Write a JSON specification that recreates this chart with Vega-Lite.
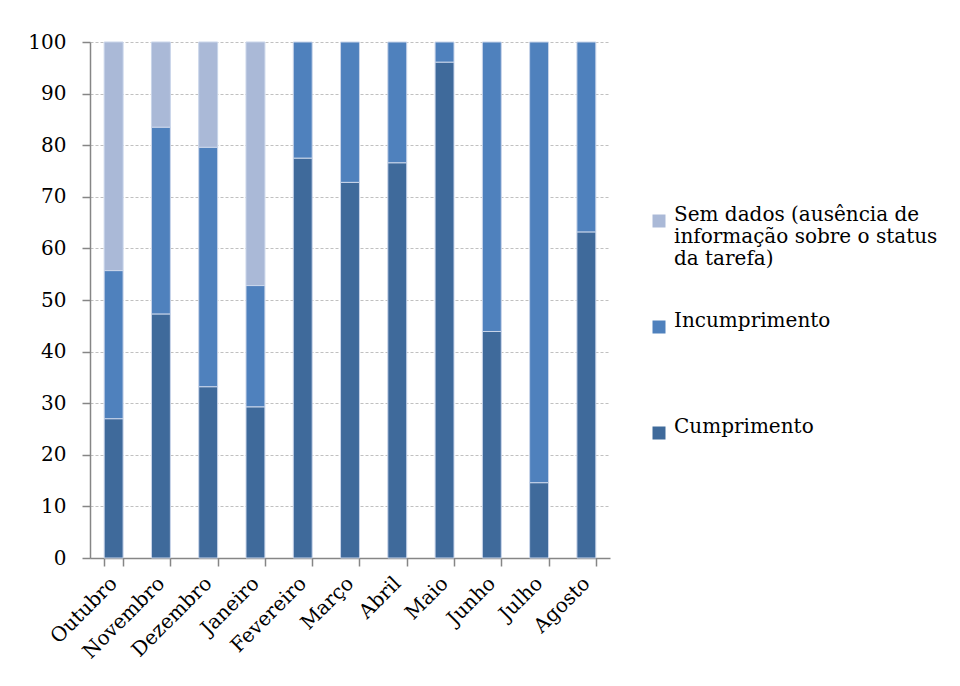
{
  "$schema": "https://vega.github.io/schema/vega-lite/v6.json",
  "width": 520,
  "height": 516,
  "autosize": {"type": "none"},
  "padding": {"left": 90, "top": 42, "right": 350, "bottom": 128},
  "background": "white",
  "config": {
    "view": {"stroke": null},
    "font": "DejaVu Serif"
  },
  "data": {
    "values": [
      {"mes": "Outubro", "cat": "Cumprimento", "ord": 1, "v": 27.0},
      {"mes": "Outubro", "cat": "Incumprimento", "ord": 2, "v": 28.7},
      {"mes": "Outubro", "cat": "Sem dados", "ord": 3, "v": 44.3},
      {"mes": "Novembro", "cat": "Cumprimento", "ord": 1, "v": 47.3},
      {"mes": "Novembro", "cat": "Incumprimento", "ord": 2, "v": 36.2},
      {"mes": "Novembro", "cat": "Sem dados", "ord": 3, "v": 16.5},
      {"mes": "Dezembro", "cat": "Cumprimento", "ord": 1, "v": 33.2},
      {"mes": "Dezembro", "cat": "Incumprimento", "ord": 2, "v": 46.4},
      {"mes": "Dezembro", "cat": "Sem dados", "ord": 3, "v": 20.4},
      {"mes": "Janeiro", "cat": "Cumprimento", "ord": 1, "v": 29.3},
      {"mes": "Janeiro", "cat": "Incumprimento", "ord": 2, "v": 23.5},
      {"mes": "Janeiro", "cat": "Sem dados", "ord": 3, "v": 47.2},
      {"mes": "Fevereiro", "cat": "Cumprimento", "ord": 1, "v": 77.5},
      {"mes": "Fevereiro", "cat": "Incumprimento", "ord": 2, "v": 22.5},
      {"mes": "Março", "cat": "Cumprimento", "ord": 1, "v": 72.8},
      {"mes": "Março", "cat": "Incumprimento", "ord": 2, "v": 27.2},
      {"mes": "Abril", "cat": "Cumprimento", "ord": 1, "v": 76.6},
      {"mes": "Abril", "cat": "Incumprimento", "ord": 2, "v": 23.4},
      {"mes": "Maio", "cat": "Cumprimento", "ord": 1, "v": 96.1},
      {"mes": "Maio", "cat": "Incumprimento", "ord": 2, "v": 3.9},
      {"mes": "Junho", "cat": "Cumprimento", "ord": 1, "v": 43.9},
      {"mes": "Junho", "cat": "Incumprimento", "ord": 2, "v": 56.1},
      {"mes": "Julho", "cat": "Cumprimento", "ord": 1, "v": 14.6},
      {"mes": "Julho", "cat": "Incumprimento", "ord": 2, "v": 85.4},
      {"mes": "Agosto", "cat": "Cumprimento", "ord": 1, "v": 63.2},
      {"mes": "Agosto", "cat": "Incumprimento", "ord": 2, "v": 36.8}
    ]
  },
  "mark": {"type": "bar", "stroke": "#c9d5ea", "strokeWidth": 1},
  "encoding": {
    "x": {
      "field": "mes",
      "type": "nominal",
      "sort": null,
      "scale": {"paddingInner": 0.6, "paddingOuter": 0.3},
      "axis": {
        "title": null,
        "tickBand": "extent",
        "labelAngle": -45,
        "labelAlign": "right",
        "labelBaseline": "middle",
        "labelFont": "DejaVu Serif",
        "labelFontSize": 20,
        "labelColor": "#000000",
        "labelPadding": 14,
        "domainColor": "#868686",
        "domainWidth": 1.5,
        "tickColor": "#868686",
        "tickWidth": 1.5,
        "tickSize": 8,
        "grid": false
      }
    },
    "y": {
      "field": "v",
      "type": "quantitative",
      "stack": "zero",
      "scale": {"domain": [0, 100], "nice": false},
      "axis": {
        "title": null,
        "values": [0, 10, 20, 30, 40, 50, 60, 70, 80, 90, 100],
        "labelFont": "DejaVu Serif",
        "labelFontSize": 20,
        "labelColor": "#000000",
        "labelPadding": 16,
        "domainColor": "#868686",
        "domainWidth": 1.5,
        "tickColor": "#868686",
        "tickWidth": 1.5,
        "tickSize": 8,
        "grid": true,
        "gridColor": "#c0c0c0",
        "gridDash": [3, 2],
        "gridWidth": 1
      }
    },
    "color": {
      "field": "cat",
      "type": "nominal",
      "scale": {
        "domain": ["Sem dados", "Incumprimento", "Cumprimento"],
        "range": ["#aab9d7", "#4f81bd", "#3f6a9b"]
      },
      "legend": {
        "title": null,
        "orient": "none",
        "legendX": 559,
        "legendY": 169,
        "padding": 0,
        "symbolType": "square",
        "symbolSize": 169,
        "symbolStrokeWidth": 0,
        "labelFont": "DejaVu Serif",
        "labelFontSize": 20,
        "labelColor": "#000000",
        "labelOffset": 5,
        "labelLimit": 400,
        "rowPadding": 42,
        "labelBaseline": "alphabetic",
        "labelExpr": "datum.label == 'Sem dados' ? ['Sem dados (ausência de', 'informação sobre o status', 'da tarefa)'] : [datum.label, '', '']"
      }
    },
    "order": {"field": "ord", "type": "quantitative"}
  }
}
